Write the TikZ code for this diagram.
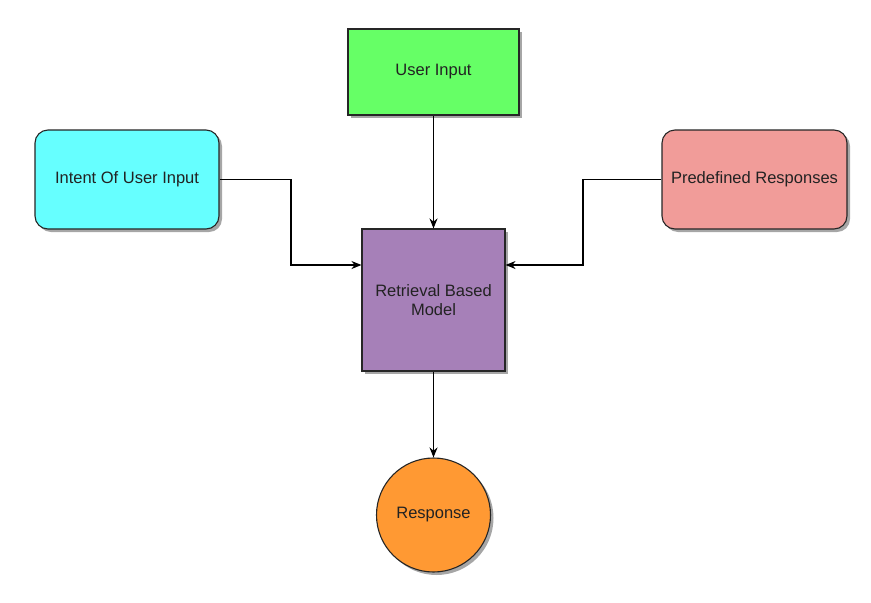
\documentclass[tikz,border=0pt]{standalone}
\usepackage{fontspec}
\setmainfont{Liberation Sans}
\usetikzlibrary{arrows.meta,shadows}
\definecolor{cgreen}{HTML}{66FF66}
\definecolor{cpurple}{HTML}{A680B8}
\definecolor{ccyan}{HTML}{66FFFF}
\definecolor{cpink}{HTML}{F19C99}
\definecolor{corange}{HTML}{FF9933}
\definecolor{ctext}{HTML}{222222}
\tikzset{
  base/.style={draw=black!85, line width=1.1pt, inner sep=0pt, text=ctext,
    font=\fontsize{16.5}{19}\selectfont, align=center,
    drop shadow={shadow xshift=3pt, shadow yshift=-3pt, fill=black, opacity=0.35}},
  sqbox/.style={base, rectangle},
  rbox/.style={base, rectangle, rounded corners=13pt},
  circ/.style={base, circle},
  conn/.style={line width=1.1pt, -{Stealth[length=10pt,width=8pt]}}
}
\begin{document}
\begin{tikzpicture}[x=1pt,y=-1pt]
\useasboundingbox (0,0) rectangle (871,603);
\node[sqbox, fill=cgreen, minimum width=171pt, minimum height=86pt] (ui) at (433.5,72) {User Input};
\node[rbox, fill=ccyan, minimum width=184pt, minimum height=99pt] (intent) at (127,179.5) {Intent Of User Input};
\node[rbox, fill=cpink, minimum width=185pt, minimum height=99pt] (pre) at (754.5,179.5) {Predefined Responses};
\node[sqbox, fill=cpurple, minimum width=143pt, minimum height=142pt] (rbm) at (433.5,300) {Retrieval Based\\Model};
\node[circ, fill=corange, minimum size=114pt] (resp) at (433.5,515) {Response};
\draw[conn] (ui) -- (rbm);
\draw[conn] (intent.east) -- (291,179.5) |- ([yshift=35pt]rbm.west);
\draw[conn] (pre.west) -- (583,179.5) |- ([yshift=35pt]rbm.east);
\draw[conn] (rbm) -- (resp);
\end{tikzpicture}
\end{document}
